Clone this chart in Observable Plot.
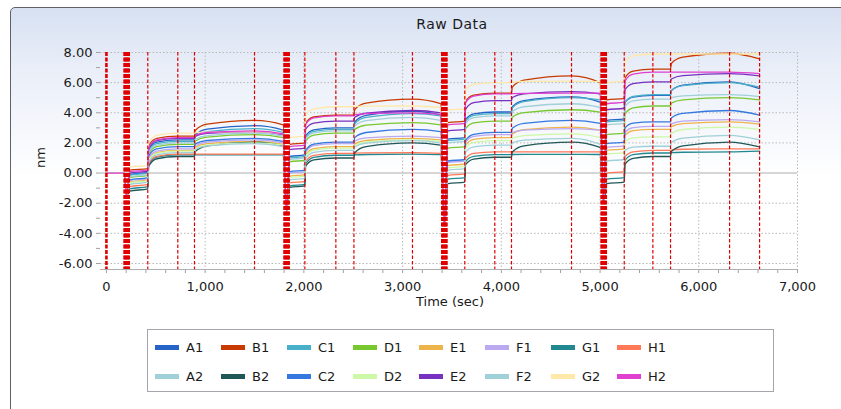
<!DOCTYPE html>
<html><head><meta charset="utf-8">
<script src="https://cdn.jsdelivr.net/npm/d3@7"></script>
<script src="https://cdn.jsdelivr.net/npm/@observablehq/plot@0.6"></script>
<style>
body{margin:0;background:#fff;font-family:"DejaVu Sans",sans-serif;}
#wrap{position:relative;width:841px;height:409px;overflow:hidden;background:#fff;}
#panel{position:absolute;left:10px;top:7px;width:840px;height:430px;border:1px solid #5e6166;border-radius:5px;background:linear-gradient(to bottom,#d7e1f2 0px,#e9eef8 60px,#ffffff 170px);}
#title{position:absolute;left:0;top:16px;width:904px;text-align:center;font-size:14px;letter-spacing:0.5px;color:#1a1a1a;}
#ylab{position:absolute;left:28px;top:150px;width:24px;text-align:center;font-size:13px;color:#1a1a1a;transform:rotate(-90deg);}
#xlab{position:absolute;left:0;top:294px;width:900px;text-align:center;font-size:13px;color:#1a1a1a;}
#chart{position:absolute;left:0;top:0;}
#legend{position:absolute;left:147px;top:329px;width:627px;height:63px;border:1px solid #a3a7ab;background:#fff;display:grid;grid-template-columns:repeat(8,66px);grid-auto-rows:29px;padding:3px 0 0 7px;box-sizing:border-box;}
.item{display:flex;align-items:center;font-size:13px;color:#1a1a1a;}
.sw{width:24px;height:5px;margin-right:7px;}
</style></head>
<body>
<div id="wrap">
  <div id="panel"></div>
  <div id="title">Raw Data</div>
  <div id="chart"></div>
  <div id="ylab">nm</div>
  <div id="xlab">Time (sec)</div>
  <div id="legend"></div>
</div>
<script>
const names = ["A1","B1","C1","D1","E1","F1","G1","H1","A2","B2","C2","D2","E2","F2","G2","H2"];
const colors = ["#2563c6","#c83a00","#48b0c8","#78c830","#eeb44c","#baa8f0","#208890","#ff7858",
                "#a0d0d8","#205858","#3478e0","#ccf8a8","#7830c0","#a0d0d8","#ffe8a8","#e040d0"];

const times = [0,180,
  205,235,419,428,510,723,892,900,1020,1500,1790,
  1825,1858,2010,2018,2100,2324,2507,2515,2630,3100,3385,
  3425,3460,3630,3638,3720,3934,4103,4111,4230,4711,5000,
  5035,5068,5245,5253,5335,5535,5714,5722,5840,6312,6616];

const A1 = [0,0, -1.5,-0.1,0.05,1.55,2.05,2.2,2.2,2.53,2.91,3.15,2.85, -2.5,1.1,1.2,2.46,2.87,3.0,3.0,3.39,3.83,4.1,3.85, -3.5,2.25,2.35,3.54,3.93,4.05,4.05,4.4,4.8,5.05,4.7, -2.0,3.5,3.6,4.69,5.04,5.15,5.15,5.47,5.83,6.05,5.6];
const B1 = [0,0, -1.5,0.2,0.3,1.8,2.3,2.45,2.45,2.82,3.24,3.5,3.2, -2.5,1.9,2.0,3.3,3.72,3.85,3.85,4.22,4.64,4.9,4.6, -3.5,3.35,3.45,4.75,5.17,5.3,5.3,5.7,6.16,6.45,6.0, -2.0,4.85,4.95,6.32,6.76,6.9,6.9,7.27,7.69,7.95,7.58];
const C1 = [0,0, -1.5,-0.15,0.0,1.47,1.95,2.1,2.1,2.4,2.74,2.95,2.7, -2.5,1.0,1.1,2.36,2.77,2.9,2.9,3.27,3.69,3.95,3.8, -3.5,2.15,2.25,3.44,3.83,3.95,3.95,4.32,4.74,5.0,4.85, -2.0,3.4,3.5,4.69,5.08,5.2,5.2,5.48,5.8,6.0,5.7];
const D1 = [0,0, -1.5,-0.3,-0.15,1.29,1.76,1.9,1.9,2.13,2.39,2.55,2.35, -2.5,0.75,0.85,2.11,2.52,2.65,2.65,2.9,3.18,3.35,3.2, -3.5,1.65,1.75,2.94,3.33,3.45,3.45,3.71,4.01,4.2,4.05, -2.0,2.55,2.65,3.91,4.32,4.45,4.45,4.64,4.86,5.0,4.85];
const E1 = [0,0, -1.5,-0.6,-0.45,0.92,1.36,1.5,1.5,1.71,1.95,2.1,1.9, -2.5,-0.2,-0.1,1.2,1.62,1.75,1.75,1.94,2.16,2.3,2.2, -3.5,0.5,0.6,1.83,2.23,2.35,2.35,2.6,2.88,3.05,2.85, -2.0,1.5,1.6,2.51,2.81,2.9,2.9,3.08,3.28,3.4,3.25];
const F1 = [0,0, -1.5,-0.5,-0.38,1.01,1.46,1.6,1.6,1.81,2.05,2.2,2.0, -2.5,0.0,0.1,1.4,1.82,1.95,1.95,2.13,2.33,2.45,2.35, -3.5,0.7,0.8,2.03,2.43,2.55,2.55,2.69,2.85,2.95,2.85, -2.0,1.7,1.8,2.71,3.01,3.1,3.1,3.26,3.44,3.55,3.4];
const G1 = [0,0, -1.5,-1.05,-0.9,0.57,1.05,1.2,1.2,1.2,1.2,1.2,1.2, -2.5,-0.85,-0.75,0.6,1.04,1.18,1.18,1.2,1.23,1.25,1.22, -3.5,-0.4,-0.3,0.76,1.11,1.22,1.22,1.23,1.24,1.24,1.23, -2.0,-0.4,-0.3,0.84,1.22,1.33,1.33,1.35,1.38,1.4,1.45];
const H1 = [0,0, -1.5,-0.9,-0.75,0.65,1.11,1.25,1.25,1.25,1.25,1.25,1.25, -2.5,-0.65,-0.55,0.75,1.17,1.3,1.3,1.32,1.34,1.35,1.3, -3.5,-0.15,-0.05,0.97,1.3,1.4,1.4,1.4,1.4,1.4,1.4, -2.0,0.0,0.1,1.08,1.4,1.5,1.5,1.54,1.58,1.6,1.6];
const A2 = [0,0, -1.5,-0.25,-0.1,1.37,1.85,2.0,2.0,2.23,2.49,2.65,2.45, -2.5,0.9,1.0,2.26,2.67,2.8,2.8,3.12,3.48,3.7,3.5, -3.5,2.0,2.1,3.29,3.68,3.8,3.8,4.08,4.4,4.6,4.35, -2.0,3.2,3.3,4.42,4.79,4.9,4.9,5.0,5.12,5.2,5.07];
const B2 = [0,0, -1.5,-1.2,-1.05,0.45,0.95,1.1,1.1,1.43,1.81,2.05,1.8, -2.5,-0.95,-0.85,0.45,0.87,1.0,1.0,1.35,1.75,2.0,1.85, -3.5,-0.7,-0.6,0.56,0.93,1.05,1.05,1.4,1.8,2.05,1.7, -2.0,-0.7,-0.6,0.59,0.98,1.1,1.1,1.43,1.81,2.05,1.73];
const C2 = [0,0, -1.5,-0.45,-0.3,1.14,1.61,1.75,1.75,1.94,2.16,2.3,2.1, -2.5,0.1,0.2,1.5,1.92,2.05,2.05,2.35,2.69,2.9,2.75, -3.5,0.8,0.9,2.16,2.57,2.7,2.7,2.98,3.3,3.5,3.3, -2.0,1.95,2.05,3.0,3.31,3.4,3.4,3.66,3.96,4.15,3.85];
const D2 = [0,0, -1.5,-0.65,-0.5,0.87,1.31,1.45,1.45,1.64,1.86,2.0,1.85, -2.5,-0.3,-0.2,1.1,1.52,1.65,1.65,1.84,2.06,2.2,2.1, -3.5,0.35,0.45,1.64,2.03,2.15,2.15,2.31,2.49,2.6,2.35, -2.0,1.25,1.35,2.09,2.33,2.4,2.4,2.63,2.89,3.05,2.9];
const E2 = [0,0, -1.5,0.0,0.12,1.65,2.15,2.3,2.3,2.46,2.64,2.75,2.55, -2.5,1.55,1.65,2.91,3.32,3.45,3.45,3.7,3.98,4.15,4.0, -3.5,2.8,2.9,4.23,4.67,4.8,4.8,5.01,5.25,5.4,5.25, -2.0,4.2,4.3,5.53,5.93,6.05,6.05,6.24,6.46,6.6,6.45];
const F2 = [0,0, -1.5,-0.75,-0.6,0.77,1.21,1.35,1.35,1.56,1.8,1.95,1.75, -2.5,-0.45,-0.35,0.95,1.37,1.5,1.5,1.73,1.99,2.15,2.0, -3.5,0.2,0.3,1.39,1.74,1.85,1.85,2.01,2.19,2.3,1.9, -2.0,0.8,0.9,1.52,1.72,1.78,1.78,2.03,2.32,2.5,2.2];
const G2 = [0,0, -1.5,0.4,0.5,2.0,2.5,2.65,2.65,2.69,2.72,2.75,2.6, -2.5,2.35,2.45,3.82,4.26,4.4,4.4,4.42,4.44,4.45,4.35, -3.5,4.2,4.25,5.48,5.88,6.0,6.0,6.04,6.08,6.1,6.07, -2.0,6.0,6.1,7.36,7.77,7.9,7.9,7.9,7.9,7.9,7.9];
const H2 = [0,0, -1.5,0.1,0.2,1.7,2.2,2.35,2.35,2.51,2.69,2.8,2.6, -2.5,1.75,1.85,3.22,3.66,3.8,3.8,3.87,3.95,4.0,3.9, -3.5,3.2,3.3,4.67,5.11,5.25,5.25,5.27,5.29,5.3,5.3, -2.0,4.6,4.7,6.1,6.56,6.7,6.7,6.7,6.7,6.7,6.6];

const seriesValues = [A1,B1,C1,D1,E1,F1,G1,H1,A2,B2,C2,D2,E2,F2,G2,H2];

// step markers (red dashed verticals)
const startLine = [0];
const stepLines = [419,723,892,1500,2010,2324,2507,3100,3630,3934,4103,4711,5245,5535,5714,6312,6616];
const regenLines = [180,190,200,210,220,230, 1800,1810,1820,1830,1840,1850,
                    3398,3408,3418,3428,3438,3448, 5012,5022,5032,5042,5052,5062];

const xTicks = [0,1000,2000,3000,4000,5000,6000,7000];
const xMinor = [200,400,600,800,1200,1400,1600,1800,2200,2400,2600,2800,3200,3400,3600,3800,
                4200,4400,4600,4800,5200,5400,5600,5800,6200,6400,6600,6800];
const yTicks = [-6,-4,-2,0,2,4,6,8];
const yMinor = [-5,-3,-1,1,3,5,7];
const yGrid = [-6,-4,-2,2,4,6,8];
const xGrid = [1000,2000,3000,4000,5000,6000,7000];

const rows = [];
names.forEach((n, k) => {
  seriesValues[k].forEach((v, i) => rows.push({s: n, t: times[i], v}));
});

const red = "#e00000";
const chart = Plot.plot({
  width: 841, height: 320,
  marginLeft: 100, marginRight: 44, marginTop: 52, marginBottom: 51,
  x: {domain: [-60, 7000]},
  y: {domain: [-6.4, 8]},
  color: {domain: names, range: colors},
  style: {background: "transparent", fontFamily: "DejaVu Sans", fontSize: "13px", color: "#1a1a1a", overflow: "visible"},
  marks: [
    Plot.gridY(yGrid, {stroke: "#b8b8b8", strokeOpacity: 1, strokeDasharray: "1.5,2"}),
    Plot.gridX(xGrid, {stroke: "#b8b8b8", strokeOpacity: 1, strokeDasharray: "1.5,2"}),
    Plot.ruleY([0], {stroke: "#c8c8c8", strokeWidth: 1.5}),
    Plot.axisX(xMinor, {tickSize: 4, text: null, stroke: "#a0a0a0", label: null}),
    Plot.axisX(xTicks, {tickSize: 4, tickPadding: 8, stroke: "#a0a0a0", tickFormat: d3.format(","), label: null, style: {letterSpacing: "0.5px"}}),
    Plot.axisY(yMinor, {tickSize: 4, text: null, stroke: "#a0a0a0", label: null}),
    Plot.axisY(yTicks, {tickSize: 4, tickPadding: 4, stroke: "#a0a0a0", tickFormat: d => d.toFixed(2), label: null, style: {letterSpacing: "0.5px"}}),
    Plot.ruleY([-6.4], {stroke: "#b0b0b0", strokeWidth: 1.2}),
    Plot.line(rows, {x: "t", y: "v", z: "s", stroke: "s", strokeWidth: 1.3, curve: "monotone-x"}),
    Plot.ruleX(regenLines, {stroke: red, strokeWidth: 1.8, strokeDasharray: "4,1.5"}),
    Plot.ruleX(stepLines, {stroke: red, strokeWidth: 1.2, strokeDasharray: "3.5,2"}),
    Plot.ruleX(startLine, {stroke: red, strokeWidth: 2.6, strokeDasharray: "4,1.5"})
  ]
});
document.getElementById("chart").append(chart);

const leg = document.getElementById("legend");
names.forEach((n, k) => {
  const it = document.createElement("div");
  it.className = "item";
  const sw = document.createElement("span");
  sw.className = "sw";
  sw.style.background = colors[k];
  it.append(sw, document.createTextNode(n));
  leg.append(it);
});
</script>
</body></html>
